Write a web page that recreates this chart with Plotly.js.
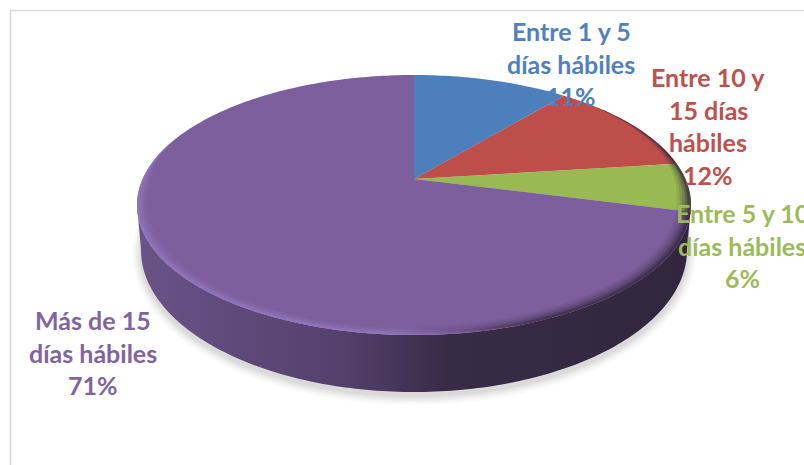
<!DOCTYPE html>
<html>
<head>
<meta charset="utf-8">
<script src="https://cdn.plot.ly/plotly-3.0.1.min.js"></script>
<style>html,body{margin:0;padding:0;background:#fff;overflow:hidden}#chart{width:804px;height:465px}</style>
</head>
<body>
<div id="chart"></div>
<script>
// ---- data ----
const categories = ['Entre 1 y 5 días hábiles', 'Entre 10 y 15 días hábiles', 'Entre 5 y 10 días hábiles', 'Más de 15 días hábiles'];
const values = [11, 12, 6, 71];
const labelLines = [
  ['Entre 1 y 5', 'días hábiles'],
  ['Entre 10 y', '15 días', 'hábiles'],
  ['Entre 5 y 10', 'días hábiles'],
  ['Más de 15', 'días hábiles']
];
// ---- styles and layout ----
const sliceColors = ['#4d7fbc', '#bd4e4a', '#99b953', '#7e5f9d'];
const textColors = ['#4f81bd', '#c0504d', '#9bbb59', '#8064a2'];
const labelCx = [571, 708, 742, 93];
const labelTop = [31, 77, 213, 320];
const linePitch = 32.7;
const FONT = 'Lato, Carlito, Calibri, sans-serif';
const FS = 25;

// perspective view of the pie disc
const C = {x: 414, y: 179, a: 271.4, b: 124.8, k: 0.2};
function project(thetaDeg, r) {
  const t = thetaDeg * Math.PI / 180, u = r * Math.sin(t), v = r * Math.cos(t), w = 1 + C.k * v;
  return [C.x + C.a * u / w, C.y - C.b * v / w];
}
function arc(from, to, r, n) {
  const pts = [];
  n = n || Math.max(8, Math.ceil(Math.abs(to - from)));
  for (let i = 0; i <= n; i++) pts.push(project(from + (to - from) * i / n, r));
  return pts;
}
function ellipseArc(cx, cy, rx, ry, from, to, n) {
  const pts = [];
  for (let i = 0; i <= n; i++) {
    const t = (from + (to - from) * i / n) * Math.PI / 180;
    pts.push([cx + rx * Math.cos(t), cy + ry * Math.sin(t)]);
  }
  return pts;
}
function poly(pts, extra) {
  return Object.assign({
    type: 'scatter', mode: 'none', fill: 'toself', hoverinfo: 'skip', showlegend: false,
    x: pts.map(p => p[0]), y: pts.map(p => p[1])
  }, extra);
}

const traces = [];
// soft shadow
[[9, 0.02], [7, 0.025], [5, 0.03], [3, 0.035], [1, 0.04]].forEach(s => {
  const e = ellipseArc(414, 254, 273 + s[0], 142 + s[0], 0, 360, 120);
  traces.push(poly(e, {fillcolor: 'rgba(0,0,0,' + s[1] + ')'}));
});
// side wall
const topFront = arc(101.5, 258.5, 1, 160);
const botFront = ellipseArc(414, 250, 273, 142, 180, 0, 160);
traces.push(poly(topFront.concat(botFront), {
  fillgradient: {type: 'horizontal', colorscale: [
    [0, '#6a5388'], [0.2, '#5e4879'], [0.38, '#52406b'], [0.47, '#46355b'], [0.56, '#382b46'], [1, '#32263e']
  ]}
}));
// top surface: slices from the values
const total = values.reduce((a, b) => a + b, 0);
let acc = 0;
values.forEach((v, i) => {
  const a0 = acc / total * 360;
  acc += v;
  const a1 = acc / total * 360;
  traces.push(poly([[C.x, C.y]].concat(arc(a0, a1, 1)), {fillcolor: sliceColors[i], name: categories[i]}));
});
// bevel: a band along the rim, its width tapering to nothing at both ends
function band(from, to, depth, taper, scale) {
  const n = 200, outer = [], inner = [];
  for (let i = 0; i <= n; i++) {
    const th = from + (to - from) * i / n;
    const f = Math.min(1, (th - from) / taper[0], (to - th) / taper[1]);
    outer.push(project(th, 1));
    inner.push(project(th, 1 - depth * f));
  }
  return poly(outer.concat(inner.reverse()), {fillgradient: {type: 'horizontal', colorscale: scale}});
}
const dark = a => 'rgba(48,36,60,' + a + ')';
const light = a => 'rgba(146,120,192,' + a + ')';
[[0.012, 0.5], [0.02, 0.3], [0.03, 0.2], [0.04, 0.14], [0.05, 0.1]].forEach(b => {
  traces.push(band(45, 185, b[0], [55, 5], [[0, dark(0)], [0.2, dark(b[1] * 0.3)], [0.55, dark(b[1] * 0.9)], [1, dark(b[1])]]));
});
[[0.008, 0.6], [0.016, 0.35], [0.024, 0.25], [0.034, 0.15]].forEach(b => {
  traces.push(band(160, 290, b[0], [20, 25], [[0, light(b[1])], [0.65, light(b[1])], [1, light(0)]]));
});

// labels
const annotations = [];
labelLines.forEach((lines, i) => {
  lines.concat([Math.round(values[i] / total * 100) + '%']).forEach((txt, j) => {
    annotations.push({
      x: labelCx[i], y: labelTop[i] + j * linePitch, xref: 'x', yref: 'y', text: txt,
      showarrow: false, xanchor: 'center', yanchor: 'middle',
      font: {family: FONT, size: FS, color: textColors[i], weight: 700}
    });
  });
});

const layout = {
  width: 804, height: 465, margin: {l: 0, r: 0, t: 0, b: 0},
  paper_bgcolor: '#fff', plot_bgcolor: '#fff', showlegend: false,
  xaxis: {range: [0, 804], visible: false, fixedrange: true},
  yaxis: {range: [465, 0], visible: false, fixedrange: true},
  annotations: annotations,
  shapes: [{type: 'path', path: 'M 10.5 465 L 10.5 10.5 L 804 10.5', xref: 'x', yref: 'y',
            line: {color: '#d9d9d9', width: 1.5}, layer: 'below'}]
};
Plotly.newPlot('chart', traces, layout, {displayModeBar: false, staticPlot: true});
</script>
</body>
</html>
